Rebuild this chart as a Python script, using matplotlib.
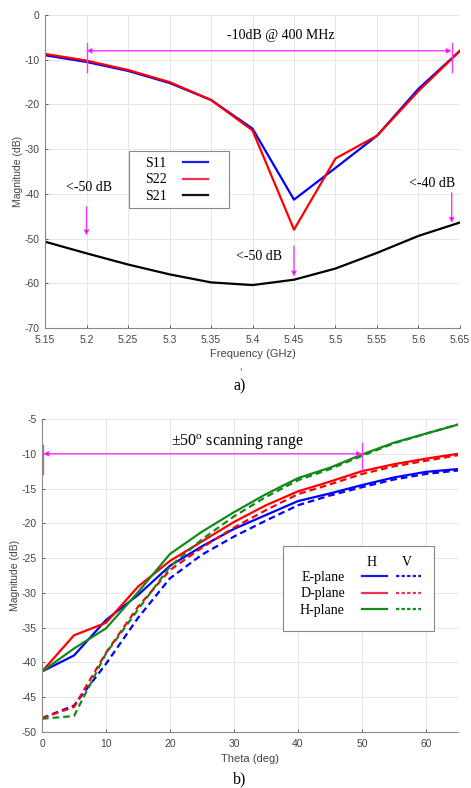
import numpy as np
import matplotlib
matplotlib.use("Agg")
import matplotlib.pyplot as plt
from matplotlib.lines import Line2D
from matplotlib.patches import Rectangle

plt.rcParams["axes.unicode_minus"] = False
plt.rcParams["mathtext.fontset"] = "custom"
plt.rcParams["mathtext.rm"] = "Liberation Serif"

# ---- panel a) S-parameters
freq = [5.15, 5.20, 5.25, 5.30, 5.35, 5.40, 5.45, 5.50, 5.55, 5.60, 5.65]
s11 = [-9.0, -10.5, -12.5, -15.2, -19.0, -25.4, -41.3, -34.2, -27.0, -16.5, -8.0]
s22 = [-8.7, -10.2, -12.3, -15.0, -19.0, -25.8, -48.0, -32.1, -27.0, -17.0, -8.0]
s21 = [-50.7, -53.3, -55.8, -58.0, -59.8, -60.4, -59.2, -56.7, -53.2, -49.4, -46.4]

# ---- panel b) scan loss vs theta
theta = [0, 5, 10, 15, 20, 25, 30, 35, 40, 45, 50, 55, 60, 65]
e_h = [-41.3, -39.0, -33.9, -30.3, -26.1, -23.3, -20.8, -18.8, -16.8, -15.7, -14.5, -13.4, -12.6, -12.2]
e_v = [-48.0, -46.2, -40.2, -33.6, -27.9, -24.5, -21.9, -19.6, -17.4, -16.0, -14.8, -13.7, -12.9, -12.4]
d_h = [-41.3, -36.1, -34.3, -29.1, -25.4, -22.6, -19.8, -17.4, -15.4, -14.0, -12.5, -11.5, -10.7, -10.0]
d_v = [-48.0, -46.4, -38.6, -32.0, -26.7, -23.5, -20.6, -18.1, -15.8, -14.4, -12.9, -11.8, -11.0, -10.2]
h_h = [-41.3, -38.0, -35.1, -29.9, -24.4, -21.2, -18.4, -15.8, -13.5, -12.0, -10.1, -8.4, -7.1, -5.8]
h_v = [-48.1, -47.7, -38.7, -32.4, -26.2, -22.3, -19.0, -16.2, -13.8, -12.2, -10.3, -8.5, -7.1, -5.8]

serif = "Liberation Serif"
sans = "Liberation Sans"
tick_col = "#444444"
mag = "#ff33ff"
head = "#4a104a"
green = "#12891a"
lw = 1.6
W, H = 471, 788

fig = plt.figure(figsize=(4.71, 7.88), dpi=100)

def px(x, y):
    return (x / W, 1 - y / H)

def style(ax):
    ax.grid(True, color="#e6e6e6", lw=0.7)
    ax.set_axisbelow(True)
    for s in ["top", "right"]:
        ax.spines[s].set_visible(False)
    for s in ["left", "bottom"]:
        ax.spines[s].set_color("#888888")
        ax.spines[s].set_linewidth(0.8)
    ax.tick_params(labelsize=7.5, colors=tick_col, length=2, direction="in", width=0.6)
    ax.tick_params(axis="x", pad=5)
    ax.tick_params(axis="y", pad=4)
    for lab in ax.get_xticklabels() + ax.get_yticklabels():
        lab.set_fontfamily(sans)

def box(x0, y0, x1, y1):
    fig.patches.append(Rectangle(px(x0, y1), (x1 - x0) / W, (y1 - y0) / H,
                                 transform=fig.transFigure, fill=True, fc="white",
                                 ec="#888888", lw=0.8, zorder=5))

def arrow(ax, xy, xytext, style):
    ax.annotate("", xy=xy, xytext=xytext,
                arrowprops=dict(arrowstyle=style, ec=mag, fc=head, lw=1.0,
                                mutation_scale=7, shrinkA=0, shrinkB=0))

# ================= a)
ax1 = fig.add_axes([45/W, 1-328/H, 415/W, 313/H])
ax1.plot(freq, s11, color="#0000ff", lw=lw)
ax1.plot(freq, s22, color="#ff0000", lw=lw)
ax1.plot(freq, s21, color="black", lw=lw)
ax1.set_xlim(5.15, 5.65)
ax1.set_ylim(-70, 0)
ax1.set_xticks(np.arange(5.15, 5.651, 0.05))
ax1.set_xticklabels(["5.15", "5.2", "5.25", "5.3", "5.35", "5.4", "5.45", "5.5", "5.55", "5.6", "5.65"])
ax1.set_yticks(np.arange(-70, 1, 10))
style(ax1)
ax1.set_xlabel("Frequency (GHz)", fontsize=8, color=tick_col, family=sans, labelpad=3)
ax1.set_ylabel("Magnitude (dB)", fontsize=7.5, color=tick_col, family=sans, labelpad=1)

box(129, 151, 229, 208)
h1 = [Line2D([], [], color="#1a1aee", lw=lw),
      Line2D([], [], color="#ee3355", lw=lw),
      Line2D([], [], color="#111111", lw=lw)]
leg1 = fig.legend(h1, ["S11", "S22", "S21"], loc="upper left",
                  bbox_to_anchor=px(145, 157), markerfirst=False, frameon=False,
                  prop={"family": serif, "size": 10}, handlelength=1.8,
                  borderpad=0, labelspacing=0.25, handletextpad=1.2, borderaxespad=0)
leg1.set_zorder(6)

# arrows and notes a)
arrow(ax1, (5.20, -8.0), (5.64, -8.0), "<|-|>")
for xv in (5.20, 5.64):
    ax1.plot([xv, xv], [-6.3, -12.7], color=mag, lw=1.0)
ax1.text(5.434, -4.5, "-10dB @ 400 MHz", family=serif, fontsize=10, ha="center", va="center")

for xv, ty, txt in [(5.203, -38.6, "<-50 dB"), (5.408, -54.1, "<-50 dB"), (5.616, -37.7, "<-40 dB")]:
    ax1.text(xv, ty, txt, family=serif, fontsize=10, ha="center", va="center")
for xv, y0, y1 in [(5.20, -42.9, -49.3), (5.45, -51.7, -58.5), (5.64, -39.8, -46.5)]:
    arrow(ax1, (xv, y1), (xv, y0), "-|>")

fig.text(*px(240, 372), "'", fontsize=7, color="#7a5a20", ha="center", va="center")
fig.text(*px(240, 386), "a)", family=serif, fontsize=11.5, ha="center", va="center")

# ================= b)
ax2 = fig.add_axes([42/W, 1-732/H, 416/W, 313/H])
dash = (0, (3, 1.8))
ax2.plot(theta, e_h, color="#0000ff", lw=lw)
ax2.plot(theta, d_h, color="#ff0000", lw=lw)
ax2.plot(theta, h_h, color=green, lw=lw)
ax2.plot(theta, e_v, color="#0000ff", lw=lw, ls=dash)
ax2.plot(theta, d_v, color="#ff0000", lw=lw, ls=dash)
ax2.plot(theta, h_v, color=green, lw=lw, ls=dash)
ax2.set_xlim(0, 65)
ax2.set_ylim(-50, -5)
ax2.set_xticks(np.arange(0, 61, 10))
ax2.set_yticks(np.arange(-50, -4, 5))
style(ax2)
ax2.set_xlabel("Theta (deg)", fontsize=8, color=tick_col, family=sans, labelpad=4)
ax2.set_ylabel("Magnitude (dB)", fontsize=7.5, color=tick_col, family=sans, labelpad=1)

arrow(ax2, (0.2, -10.0), (50, -10.0), "<|-|>")
ax2.plot([0.15, 0.15], [-8.7, -12.9], color=mag, lw=1.0, clip_on=False)
ax2.plot([50, 50], [-8.5, -12.4], color=mag, lw=1.0)
ax2.text(30.5, -8.3, "±50$^{\\rm o}$ scanning range", family=serif, fontsize=11.5,
         ha="center", va="center")

box(283, 546, 434, 631)
ldash = (0, (1.5, 1))
h2 = [Line2D([], [], color="#1a1aee", lw=lw),
      Line2D([], [], color="#ee3355", lw=lw),
      Line2D([], [], color=green, lw=lw),
      Line2D([], [], color="#1a1aee", lw=lw, ls=ldash),
      Line2D([], [], color="#ee3355", lw=lw, ls=ldash),
      Line2D([], [], color=green, lw=lw, ls=ldash)]
leg2 = fig.legend(h2, ["E-plane", "D-plane", "H-plane", "", "", ""], ncol=2,
                  loc="upper left", bbox_to_anchor=px(300, 571),
                  markerfirst=False, frameon=False, prop={"family": serif, "size": 10},
                  handlelength=1.8, handletextpad=1.2, columnspacing=-0.5,
                  labelspacing=0.25, borderpad=0, borderaxespad=0)
leg2.set_zorder(6)
fig.text(*px(372, 562), "H", family=serif, fontsize=10, ha="center", va="center", zorder=7)
fig.text(*px(407, 562), "V", family=serif, fontsize=10, ha="center", va="center", zorder=7)

fig.text(*px(240, 779), "b)", family=serif, fontsize=11.5, ha="center", va="center")

fig.savefig("out.png", dpi=100)
